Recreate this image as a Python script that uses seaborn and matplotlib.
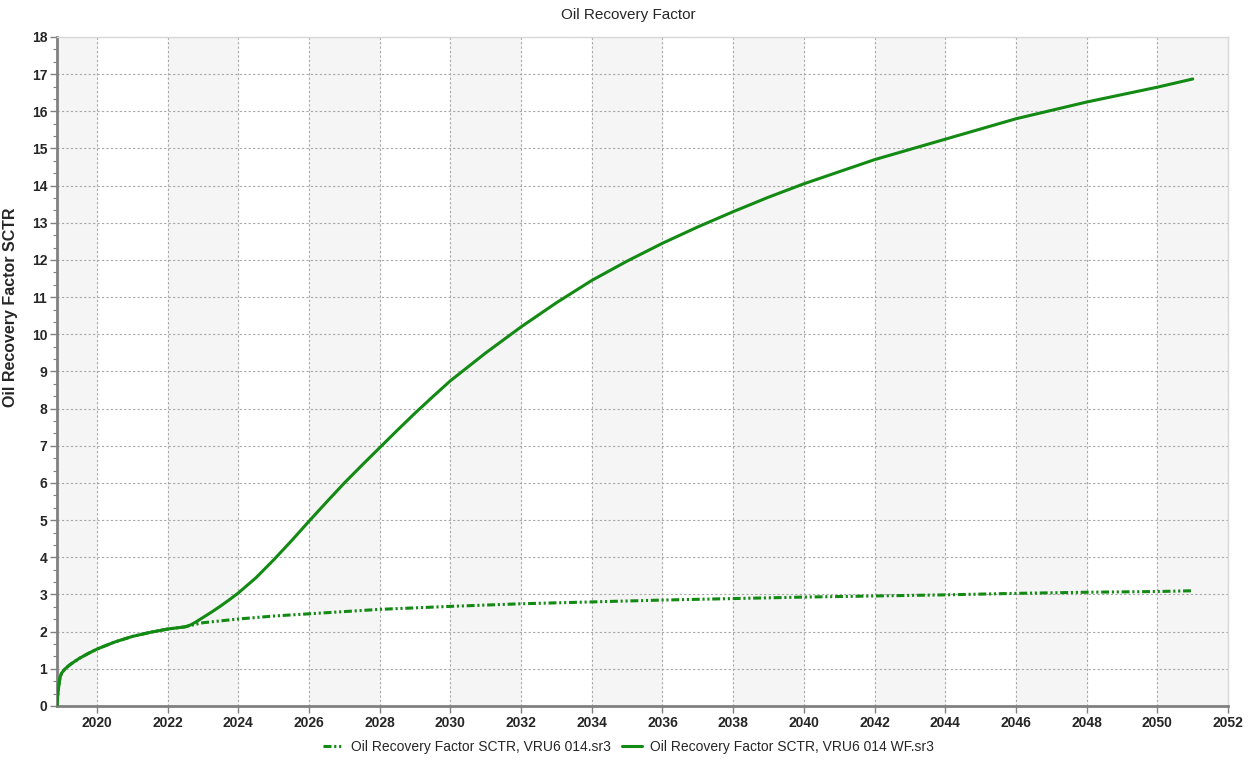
import numpy as np
import pandas as pd
import matplotlib
matplotlib.use('Agg')
import matplotlib.pyplot as plt
from matplotlib.ticker import MultipleLocator, AutoMinorLocator
import seaborn as sns

# data
years_common = [2018.87, 2018.9, 2018.93, 2018.96, 2019.0, 2019.1, 2019.25, 2019.5,
                2019.75, 2020.0, 2020.5, 2021.0, 2021.5, 2022.0, 2022.25, 2022.5]
rf_common = [0.0, 0.35, 0.6, 0.78, 0.88, 1.0, 1.12, 1.28,
             1.41, 1.53, 1.72, 1.87, 1.98, 2.07, 2.1, 2.13]

years_base = [2022.75, 2023, 2024, 2025, 2026, 2027, 2028, 2030, 2032, 2034, 2036,
              2038, 2040, 2042, 2044, 2046, 2048, 2050, 2051]
rf_base = [2.19, 2.24, 2.34, 2.42, 2.48, 2.54, 2.6, 2.68, 2.75, 2.8, 2.85,
           2.89, 2.93, 2.96, 2.99, 3.03, 3.06, 3.08, 3.1]

years_wf = [2022.65, 2022.8, 2023, 2023.25, 2023.5, 2023.75, 2024, 2024.5, 2025, 2025.5,
            2026, 2026.5, 2027, 2027.5, 2028, 2028.5, 2029, 2029.5, 2030, 2031, 2032,
            2033, 2034, 2035, 2036, 2037, 2038, 2039, 2040, 2042, 2044, 2046, 2048,
            2050, 2051]
rf_wf = [2.18, 2.26, 2.38, 2.53, 2.69, 2.86, 3.04, 3.45, 3.93, 4.44,
         4.97, 5.49, 6.0, 6.48, 6.95, 7.42, 7.88, 8.32, 8.75, 9.5, 10.2,
         10.85, 11.45, 11.97, 12.45, 12.89, 13.3, 13.69, 14.05, 14.7, 15.25, 15.8, 16.25,
         16.65, 16.87]

name_base = 'Oil Recovery Factor SCTR, VRU6 014.sr3'
name_wf = 'Oil Recovery Factor SCTR, VRU6 014 WF.sr3'

df_base = pd.DataFrame({'year': years_common + years_base, 'rf': rf_common + rf_base})
df_wf = pd.DataFrame({'year': years_common + years_wf, 'rf': rf_common + rf_wf})

sns.set_style('white')
plt.rcParams['font.family'] = ['Liberation Sans', 'DejaVu Sans']

fig = plt.figure(figsize=(12.57, 7.61), dpi=100)
ax = fig.add_axes([0.0453, 0.0723, 0.9317, 0.8791])

xmin, xmax = 2018.87, 2052
ax.set_xlim(xmin, xmax)
ax.set_ylim(0, 18)

# alternating background bands
ax.axvspan(xmin, 2020, color='#f5f5f5', zorder=0)
for x0 in range(2022, 2052, 4):
    ax.axvspan(x0, x0 + 2, color='#f5f5f5', zorder=0)

green = '#138a13'
sns.lineplot(data=df_base, x='year', y='rf', ax=ax, color=green, lw=2.2,
             label=name_base, sort=False, zorder=3)
ax.lines[-1].set_linestyle((0, (2.6, 0.9, 0.7, 0.9, 0.7, 0.9)))
sns.lineplot(data=df_wf, x='year', y='rf', ax=ax, color=green, lw=2.2,
             label=name_wf, sort=False, zorder=4)

ax.xaxis.set_major_locator(MultipleLocator(2))
ax.yaxis.set_major_locator(MultipleLocator(1))
ax.yaxis.set_minor_locator(AutoMinorLocator(3))
ax.grid(True, which='major', color='#a8a8a8', lw=0.8, ls=(0, (2, 2)))
ax.set_axisbelow(True)

for s in ['left', 'bottom']:
    ax.spines[s].set_color('#808080')
    ax.spines[s].set_linewidth(2)
for s in ['top', 'right']:
    ax.spines[s].set_color('#d8d8d8')
    ax.spines[s].set_linewidth(1)

ax.tick_params(axis='both', which='major', direction='out', length=5, width=1,
               color='#808080', labelsize=10, pad=2)
ax.tick_params(axis='y', which='minor', direction='out', length=3, width=0.8,
               color='#808080', left=True)
ax.tick_params(axis='x', which='major', bottom=True)
ax.tick_params(axis='y', which='major', left=True)
for lab in ax.get_xticklabels() + ax.get_yticklabels():
    lab.set_fontweight('bold')

ax.set_xlabel('')
ax.set_ylabel('Oil Recovery Factor SCTR', fontsize=11.5, fontweight='bold')
ax.yaxis.set_label_coords(-0.0333, 0.596)
fig.suptitle('Oil Recovery Factor', fontsize=11, y=0.99)

ax.get_legend().remove()
fig.legend(loc='center', bbox_to_anchor=(0.5, 0.018), ncol=2, frameon=False,
           fontsize=10, handlelength=1.4, columnspacing=0.8, handletextpad=0.6)

fig.savefig('out.png', dpi=100)
